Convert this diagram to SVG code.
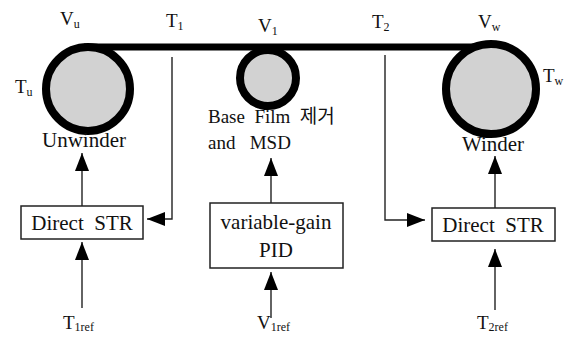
<svg xmlns="http://www.w3.org/2000/svg" width="577" height="337" viewBox="0 0 577 337">
  <style>
    .lbl { font-family: "Liberation Serif", "Noto Sans CJK KR", serif; fill: #111; }
    .big { font-size: 21px; }
    .sym { font-size: 19px; }
    .sub { font-size: 12px; }
    .roll { fill: #d2d2d2; stroke: #000; stroke-width: 8; }
    .box { fill: #fff; stroke: #222; stroke-width: 1.5; }
    .wire { fill: none; stroke: #222; stroke-width: 1.4; }
  </style>
  <defs>
    <marker id="arrow" markerUnits="userSpaceOnUse" markerWidth="18" markerHeight="14" viewBox="0 0 18 14" refX="18" refY="7" orient="auto">
      <path d="M0,0 L18,7 L0,14 Z" fill="#000"/>
    </marker>
  </defs>
  <rect width="577" height="337" fill="#fff"/>

  <!-- web path over the rolls -->
  <g id="web">
    <line x1="84" y1="47" x2="494" y2="47" stroke="#000" stroke-width="7"/>
  </g>

  <g id="unwinder">
    <circle class="roll" cx="88" cy="89" r="42"/>
    <text class="lbl big" x="84" y="147" text-anchor="middle">Unwinder</text>
  </g>

  <g id="msd-roll">
    <circle class="roll" cx="268" cy="78" r="28" stroke-width="7"/>
    <text class="lbl sym" x="208" y="123" xml:space="preserve">Base  Film  제거</text>
    <text class="lbl sym" x="208" y="149" xml:space="preserve">and   MSD</text>
  </g>

  <g id="winder">
    <circle class="roll" cx="491" cy="89" r="45"/>
    <text class="lbl big" x="493" y="151" text-anchor="middle">Winder</text>
  </g>

  <!-- signal labels -->
  <g id="labels">
    <text class="lbl sym" x="60" y="25">V<tspan class="sub" dy="3">u</tspan></text>
    <text class="lbl sym" x="166" y="27">T<tspan class="sub" dy="3">1</tspan></text>
    <text class="lbl sym" x="258" y="32">V<tspan class="sub" dy="3">1</tspan></text>
    <text class="lbl sym" x="372" y="28">T<tspan class="sub" dy="3">2</tspan></text>
    <text class="lbl sym" x="478" y="28">V<tspan class="sub" dy="3">w</tspan></text>
    <text class="lbl sym" x="15" y="93">T<tspan class="sub" dy="3">u</tspan></text>
    <text class="lbl sym" x="543" y="82">T<tspan class="sub" dy="3">w</tspan></text>
  </g>

  <g id="str-left">
    <rect class="box" x="21" y="206" width="122" height="33"/>
    <text class="lbl big" x="82" y="230" text-anchor="middle" xml:space="preserve">Direct  STR</text>
  </g>

  <g id="pid">
    <rect class="box" x="210" y="203" width="133" height="65"/>
    <text class="lbl big" x="276" y="229" text-anchor="middle">variable-gain</text>
    <text class="lbl big" x="276" y="257" text-anchor="middle">PID</text>
  </g>

  <g id="str-right">
    <rect class="box" x="432" y="208" width="123" height="33"/>
    <text class="lbl big" x="493" y="232" text-anchor="middle" xml:space="preserve">Direct  STR</text>
  </g>

  <g id="refs">
    <text class="lbl sym" x="63" y="329">T<tspan class="sub" dy="2">1ref</tspan></text>
    <text class="lbl sym" x="257" y="329">V<tspan class="sub" dy="2">1ref</tspan></text>
    <text class="lbl sym" x="477" y="329">T<tspan class="sub" dy="2">2ref</tspan></text>
  </g>

  <g id="connectors">
    <path class="wire" d="M172,57 V219 H147" marker-end="url(#arrow)"/>
    <path class="wire" d="M385,55 V220 H425" marker-end="url(#arrow)"/>
    <path class="wire" d="M82,206 V153" marker-end="url(#arrow)"/>
    <path class="wire" d="M82,308 V242" marker-end="url(#arrow)"/>
    <path class="wire" d="M271,203 V158" marker-end="url(#arrow)"/>
    <path class="wire" d="M271,318 V272" marker-end="url(#arrow)"/>
    <path class="wire" d="M495,208 V156" marker-end="url(#arrow)"/>
    <path class="wire" d="M495,310 V249" marker-end="url(#arrow)"/>
  </g>
</svg>
